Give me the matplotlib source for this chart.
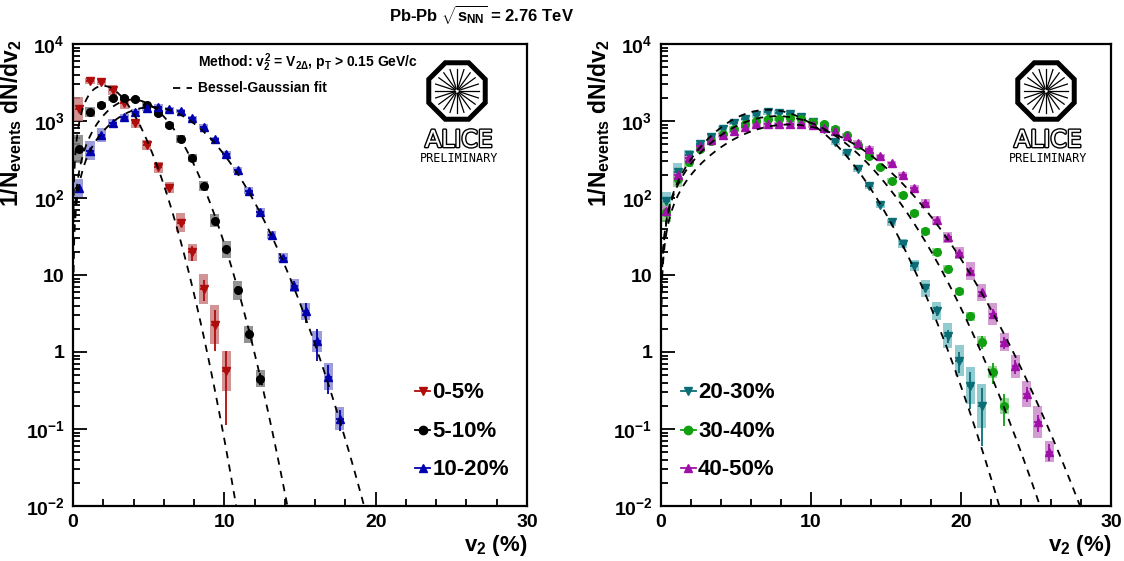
import numpy as np
import matplotlib
matplotlib.use('Agg')
import matplotlib.pyplot as plt
from matplotlib.patches import Rectangle, Polygon
from matplotlib.ticker import FixedLocator, FixedFormatter, NullFormatter
import matplotlib.patheffects as pe

plt.rcParams['font.family'] = ['Liberation Sans', 'DejaVu Sans']
plt.rcParams['font.weight'] = 'bold'
plt.rcParams['axes.labelweight'] = 'bold'
plt.rcParams['mathtext.fontset'] = 'custom'
plt.rcParams['mathtext.rm'] = 'Liberation Sans:bold'
plt.rcParams['mathtext.it'] = 'Liberation Sans:bold'
plt.rcParams['mathtext.bf'] = 'Liberation Sans:bold'
plt.rcParams['mathtext.sf'] = 'Liberation Sans:bold'

# ---------------- data ----------------
V2_BINS = [0.375, 1.125, 1.875, 2.625, 3.375, 4.125, 4.875, 5.625, 6.375, 7.125,
           7.875, 8.625, 9.375, 10.125, 10.875, 11.625, 12.375, 13.125, 13.875,
           14.625, 15.375, 16.125, 16.875, 17.625, 18.375, 19.125, 19.875, 20.625,
           21.375, 22.125, 22.875, 23.625, 24.375, 25.125, 25.875]

LABELS_LEFT = ['0-5%', '5-10%', '10-20%']
LABELS_RIGHT = ['20-30%', '30-40%', '40-50%']

RED_Y = [1420, 3330, 3240, 2520, 1700, 934, 488, 251, 136, 48, 19.6, 6.56, 2.26, 0.57]
RED_SYST = [0.155, 0.04, 0.04, 0.065, 0.075, 0.055, 0.06, 0.07, 0.07, 0.12, 0.11, 0.19, 0.25, 0.26]
RED_STAT = [0.02, 0.01, 0.01, 0.01, 0.01, 0.02, 0.02, 0.03, 0.05, 0.10, 0.22, 0.30, 0.55, 0.80]

BLACK_Y = [430, 1320, 1610, 1970, 1970, 1910, 1610, 1260, 888, 579, 334, 143, 51, 21.5, 6.3, 1.71, 0.45]
BLACK_SYST = [0.18, 0.065, 0.04, 0.035, 0.035, 0.035, 0.035, 0.04, 0.045, 0.05, 0.05, 0.06, 0.08, 0.11, 0.12, 0.11, 0.11]
BLACK_STAT = [0.02, 0.01, 0.01, 0.01, 0.01, 0.01, 0.01, 0.01, 0.02, 0.02, 0.03, 0.04, 0.05, 0.07, 0.10, 0.15, 0.18]

BLUE_Y = [134, 412, 658, 950, 1117, 1321, 1462, 1532, 1419, 1349, 1084, 844, 584, 373, 231, 125,
          66.6, 33.2, 16.8, 7.24, 3.37, 1.37, 0.48, 0.136]
BLUE_SYST = [0.12, 0.125, 0.09, 0.05, 0.04, 0.035, 0.03, 0.03, 0.03, 0.03, 0.03, 0.03, 0.03, 0.035,
             0.035, 0.04, 0.045, 0.05, 0.06, 0.085, 0.115, 0.135, 0.17, 0.15]
BLUE_STAT = [0.02, 0.01, 0.01, 0.01, 0.01, 0.01, 0.01, 0.01, 0.01, 0.01, 0.01, 0.01, 0.01, 0.02,
             0.02, 0.03, 0.04, 0.06, 0.08, 0.15, 0.30, 0.45, 0.40, 0.30]

TEAL_Y = [91.7, 218, 359, 509, 620, 796, 953, 1074, 1186, 1309, 1285, 1222, 1127, 982, 796, 534,
          381, 236, 144, 81.5, 48.1, 25.5, 13.2, 6.70, 3.43, 1.63, 0.771, 0.366, 0.201]
TEAL_SYST = [0.11, 0.12, 0.07, 0.05, 0.04, 0.04, 0.035, 0.035, 0.035, 0.035, 0.035, 0.035, 0.035,
             0.035, 0.035, 0.035, 0.04, 0.04, 0.04, 0.045, 0.05, 0.055, 0.07, 0.11, 0.12, 0.16,
             0.20, 0.24, 0.285]
TEAL_STAT = [0.02, 0.01, 0.01, 0.01, 0.01, 0.01, 0.01, 0.01, 0.01, 0.01, 0.01, 0.01, 0.01, 0.01,
             0.01, 0.01, 0.01, 0.02, 0.02, 0.03, 0.04, 0.05, 0.07, 0.10, 0.15, 0.20, 0.30, 0.50, 0.70]

GREEN_Y = [64.9, 175, 294, 429, 550, 672, 796, 906, 1000, 1052, 1074, 1107, 1074, 982, 906, 796,
           653, 484, 352, 249, 167, 109, 63.5, 37.1, 20.0, 11.9, 6.12, 2.90, 1.36, 0.555, 0.198]
GREEN_SYST = [0.12, 0.10, 0.06, 0.04, 0.035, 0.03, 0.03, 0.03, 0.03, 0.03, 0.03, 0.03, 0.03, 0.03,
              0.03, 0.03, 0.03, 0.03, 0.035, 0.035, 0.035, 0.04, 0.04, 0.045, 0.05, 0.05, 0.05,
              0.06, 0.07, 0.08, 0.10]
GREEN_STAT = [0.02, 0.01, 0.01, 0.01, 0.01, 0.01, 0.01, 0.01, 0.01, 0.01, 0.01, 0.01, 0.01, 0.01,
              0.01, 0.01, 0.01, 0.01, 0.02, 0.02, 0.02, 0.03, 0.03, 0.04, 0.05, 0.06, 0.08, 0.12,
              0.20, 0.30, 0.45]

PURPLE_Y = [68, 198, 335, 474, 567, 653, 742, 846, 906, 906, 906, 925, 906, 880, 821, 742, 638,
            525, 439, 352, 282, 198, 134, 85.7, 51.5, 31, 19.2, 11.3, 5.95, 3.11, 1.34, 0.649,
            0.285, 0.123, 0.0505]
PURPLE_SYST = [0.06, 0.05, 0.05, 0.04, 0.035, 0.03, 0.03, 0.03, 0.03, 0.03, 0.03, 0.03, 0.03,
               0.03, 0.03, 0.03, 0.03, 0.03, 0.03, 0.03, 0.035, 0.04, 0.045, 0.05, 0.06, 0.07,
               0.08, 0.12, 0.11, 0.14, 0.12, 0.15, 0.175, 0.21, 0.135]
PURPLE_STAT = [0.02, 0.01, 0.01, 0.01, 0.01, 0.01, 0.01, 0.01, 0.01, 0.01, 0.01, 0.01, 0.01,
               0.01, 0.01, 0.01, 0.01, 0.01, 0.01, 0.01, 0.02, 0.02, 0.03, 0.03, 0.04, 0.05,
               0.06, 0.10, 0.12, 0.15, 0.18, 0.20, 0.22, 0.25, 0.25]

# points (v2 in %, value)
RED_FIT_V = [1.7, 6.89, 7.55, 8.66, 9.77, 10.72]
RED_FIT_Y = [3300, 33.2, 11.7, 1.44, 0.146, 0.0123]
BLACK_FIT_V = [4.0, 9.66, 10.88, 11.98, 13.09, 14.09]
BLACK_FIT_Y = [1950, 36.7, 8.67, 0.877, 0.098, 0.0128]
BLUE_FIT_V = [0.36, 6.0, 13.87, 15.08, 16.41, 17.74, 19.1]
BLUE_FIT_Y = [130, 1530, 15.3, 3.05, 0.79, 0.132, 0.0115]
TEAL_FIT_V = [7.9, 16.38, 18.82, 20.6, 22.48]
TEAL_FIT_Y = [1330, 19.6, 1.47, 0.165, 0.0112]
GREEN_FIT_V = [8.7, 18.15, 19.93, 21.71, 23.71, 25.48]
GREEN_FIT_Y = [1070, 23.9, 4.0, 0.545, 0.05, 0.0102]
PURPLE_FIT_V = [8.7, 19.93, 22.15, 24.38, 26.59, 27.93]
PURPLE_FIT_Y = [900, 19.6, 2.96, 0.366, 0.045, 0.0107]

Y_TICKS = [1e-2, 1e-1, 1, 10, 1e2, 1e3, 1e4]
Y_TICKLABELS = [r'$10^{-2}$', r'$10^{-1}$', '1', '10', r'$10^{2}$', r'$10^{3}$', r'$10^{4}$']
X_TICKS = [0, 10, 20, 30]

# ---------------- helpers ----------------
W, H = 1124, 561


def bg_log(v, v0, s):
    x = v * v0 / s ** 2
    return np.log(v / s ** 2) - (v ** 2 + v0 ** 2) / (2 * s ** 2) + np.log(np.i0(x))


def fit_bg(vs, ys):
    vv = np.asarray(vs, float)[:, None, None]
    ly = np.log(np.asarray(ys, float))[:, None, None]
    v0 = np.arange(0.0, 12.001, 0.05)[None, :, None]
    s = np.arange(1.0, 7.001, 0.02)[None, None, :]
    lf = bg_log(vv, v0, s)
    la = (ly - lf).mean(axis=0)
    loss = ((lf + la - ly) ** 2).sum(axis=0)
    i, j = np.unravel_index(np.argmin(loss), loss.shape)
    return la[i, j], v0[0, i, 0], s[0, 0, j]


def draw_series(ax, y, syst, stat, color, boxcolor, marker, ms):
    v = np.array(V2_BINS[:len(y)])
    y = np.array(y, float)
    for vi, yi, si in zip(v, y, syst):
        lo, hi = yi * 10 ** (-si), yi * 10 ** si
        ax.add_patch(Rectangle((vi - 0.3, lo), 0.6, hi - lo, facecolor=boxcolor,
                               edgecolor='none', alpha=0.85, zorder=2))
    ax.errorbar(v, y, yerr=np.array(stat) * y, xerr=0.25, fmt=marker, color=color,
                mec=color, mfc=color, ms=ms, elinewidth=1.3, capsize=0, zorder=3)


def draw_fit(ax, fv, fy):
    la, v0, s = fit_bg(fv, fy)
    v = np.linspace(0.02, 30, 1500)
    ax.plot(v, np.exp(la + bg_log(v, v0, s)), color='black', lw=1.3,
            ls=(0, (4, 3.5)), zorder=5)


def style_axes(ax):
    ax.set_yscale('log')
    ax.set_xlim(0, 30)
    ax.set_ylim(1e-2, 1e4)
    ax.yaxis.set_major_locator(FixedLocator(Y_TICKS))
    ax.yaxis.set_major_formatter(FixedFormatter(Y_TICKLABELS))
    minors = [m * 10.0 ** e for e in range(-2, 4) for m in range(2, 10)]
    ax.yaxis.set_minor_locator(FixedLocator(minors))
    ax.yaxis.set_minor_formatter(NullFormatter())
    ax.xaxis.set_major_locator(FixedLocator(X_TICKS))
    ax.xaxis.set_minor_locator(FixedLocator([2, 4, 6, 8, 12, 14, 16, 18, 22, 24, 26, 28]))
    ax.tick_params(which='both', direction='in', top=False, right=False, width=1.3)
    ax.tick_params(which='major', length=10, labelsize=14, pad=6)
    ax.tick_params(which='minor', length=5)
    for sp in ax.spines.values():
        sp.set_linewidth(1.6)
    ax.set_ylabel(r'$1/N_{events}\ dN/dv_{2}$', fontsize=16.5, loc='top')
    ax.yaxis.set_label_coords(-0.108, 1.01)
    ax.set_xlabel(r'$v_{2}$ (%)', fontsize=16, loc='right', fontweight='bold')
    ax.xaxis.set_label_coords(1.0, -0.058)


def legend(ax, x0, entries):
    ys = [0.249, 0.1645, 0.0829]
    for (lab, color, marker), yy in zip(entries, ys):
        ax.plot([x0 - 0.017, x0 + 0.017], [yy, yy], transform=ax.transAxes,
                color=color, lw=1.3, zorder=6, clip_on=False)
        ax.plot([x0], [yy], marker=marker, color=color, ms=6, transform=ax.transAxes,
                zorder=7, clip_on=False)
        ax.text(x0 + 0.022, yy - 0.003, lab, transform=ax.transAxes, fontsize=16,
                ha='left', va='center', zorder=7)


def alice_logo(fig, cx, cy):
    size = 68
    lax = fig.add_axes([(cx - size / 2) / W, 1 - (cy + size / 2) / H, size / W, size / H])
    lax.set_xlim(-1.12, 1.12)
    lax.set_ylim(-1.12, 1.12)
    lax.axis('off')
    ang = np.deg2rad(22.5 + 45 * np.arange(8))
    R = 1 / np.cos(np.deg2rad(22.5))
    lax.add_patch(Polygon(np.c_[R * np.cos(ang), R * np.sin(ang)] * 0.93, closed=True,
                          fill=False, lw=3.6, ec='black', joinstyle='miter'))
    for a in np.linspace(0, 2 * np.pi, 20, endpoint=False):
        lax.plot([0.08 * np.cos(a), 0.74 * np.cos(a)], [0.08 * np.sin(a), 0.74 * np.sin(a)],
                 color='black', lw=0.9)
    fig.text((cx + 2) / W, 1 - (cy + 49) / H, 'ALICE', ha='center', va='center', fontsize=17,
             family='DejaVu Sans', weight='normal', color='white',
             path_effects=[pe.withStroke(linewidth=2.0, foreground='black')])
    fig.text((cx + 2) / W, 1 - (cy + 67) / H, 'PRELIMINARY', ha='center', va='center',
             fontsize=8.5, family='DejaVu Sans Mono', weight='normal', color='black')


# ---------------- figure ----------------
fig = plt.figure(figsize=(W / 100, H / 100), dpi=100)
axL = fig.add_axes([73 / W, 1 - 506 / H, 454 / W, 462 / H])
axR = fig.add_axes([660.7 / W, 1 - 506 / H, 450.5 / W, 462 / H])

RED, RED_BOX = '#b00c0c', '#c98080'
BLK, BLK_BOX = '#000000', '#808080'
BLU, BLU_BOX = '#0000b0', '#8c8cd0'
TEA, TEA_BOX = '#0b6e76', '#80c4c8'
GRN, GRN_BOX = '#10a010', '#8ccf8c'
PUR, PUR_BOX = '#a010a8', '#cc8ccc'

draw_series(axL, RED_Y, RED_SYST, RED_STAT, RED, RED_BOX, 'v', 6.3)
draw_series(axL, BLACK_Y, BLACK_SYST, BLACK_STAT, BLK, BLK_BOX, 'o', 5.5)
draw_series(axL, BLUE_Y, BLUE_SYST, BLUE_STAT, BLU, BLU_BOX, '^', 6.3)
draw_fit(axL, RED_FIT_V, RED_FIT_Y)
draw_fit(axL, BLACK_FIT_V, BLACK_FIT_Y)
draw_fit(axL, BLUE_FIT_V, BLUE_FIT_Y)

draw_series(axR, TEAL_Y, TEAL_SYST, TEAL_STAT, TEA, TEA_BOX, 'v', 6.3)
draw_series(axR, GREEN_Y, GREEN_SYST, GREEN_STAT, GRN, GRN_BOX, 'o', 5.5)
draw_series(axR, PURPLE_Y, PURPLE_SYST, PURPLE_STAT, PUR, PUR_BOX, '^', 6.3)
draw_fit(axR, TEAL_FIT_V, TEAL_FIT_Y)
draw_fit(axR, GREEN_FIT_V, GREEN_FIT_Y)
draw_fit(axR, PURPLE_FIT_V, PURPLE_FIT_Y)

style_axes(axL)
style_axes(axR)

legend(axL, 0.770, [(LABELS_LEFT[0], RED, 'v'), (LABELS_LEFT[1], BLK, 'o'), (LABELS_LEFT[2], BLU, '^')])
legend(axR, 0.061, [(LABELS_RIGHT[0], TEA, 'v'), (LABELS_RIGHT[1], GRN, 'o'), (LABELS_RIGHT[2], PUR, '^')])

# annotations
axL.text(0.276, 0.959, r'Method: $v_{2}^{2}$ = $V_{2\Delta}$, $p_{T}$ > 0.15 GeV/c',
         transform=axL.transAxes, fontsize=10, ha='left', va='center')
axL.plot([0.220, 0.262], [0.905, 0.905], transform=axL.transAxes, color='black', lw=1.3,
         ls=(0, (4, 3.5)))
axL.text(0.275, 0.905, 'Bessel-Gaussian fit', transform=axL.transAxes, fontsize=10,
         ha='left', va='center')

fig.text(482 / W, 1 - 15 / H, r'Pb-Pb $\sqrt{s_{NN}}$ = 2.76 TeV', ha='center', va='center',
         fontsize=12)

alice_logo(fig, 457, 91)
alice_logo(fig, 1046, 91)

fig.savefig('out.png', dpi=100)
